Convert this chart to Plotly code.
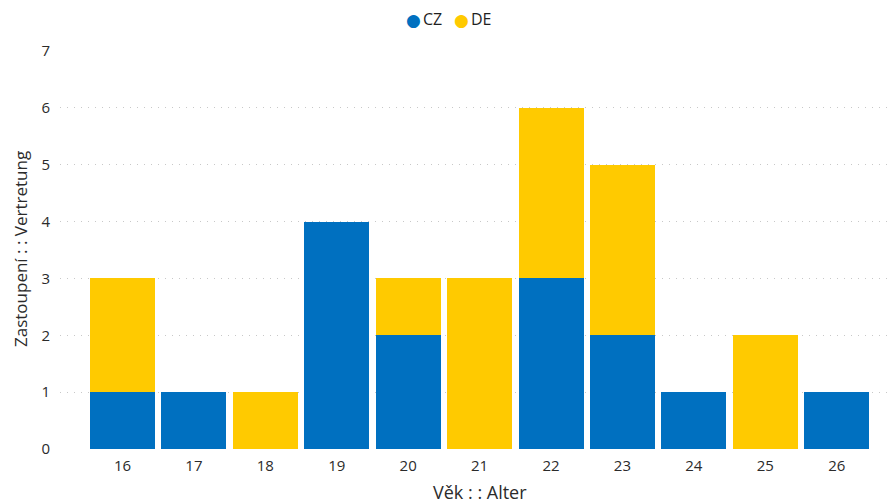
import plotly.graph_objects as go

ages = [16, 17, 18, 19, 20, 21, 22, 23, 24, 25, 26]
cz = [1, 1, 0, 4, 2, 0, 3, 2, 1, 0, 1]
de = [2, 0, 1, 0, 1, 3, 3, 3, 0, 2, 0]
series_names = ["CZ", "DE"]

CZ_COLOR = "#0070C0"
DE_COLOR = "#FFCA00"
FONT = "Open Sans, DejaVu Sans, sans-serif"
TXT = "#2b2b2b"

# page body has an 8px margin, so the figure is sized/placed to compensate
fig = go.Figure()
fig.add_trace(go.Bar(x=ages, y=cz, name=series_names[0], marker=dict(color=CZ_COLOR, line=dict(width=0)),
                     width=0.91, showlegend=False))
fig.add_trace(go.Bar(x=ages, y=de, name=series_names[1], marker=dict(color=DE_COLOR, line=dict(width=0)),
                     width=0.91, showlegend=False))

fig.update_layout(
    width=888, height=495,
    barmode="stack",
    bargap=0,
    showlegend=False,
    plot_bgcolor="white", paper_bgcolor="white",
    margin=dict(l=52, r=0, t=43, b=54, autoexpand=False),
    font=dict(family=FONT, color=TXT, size=13),
    xaxis=dict(range=[15.125, 26.83], tickvals=ages, ticktext=[str(a) for a in ages],
               showgrid=False, zeroline=False, showline=False, ticks="", automargin=False,
               ticklabelstandoff=6,
               tickfont=dict(size=15, color=TXT)),
    yaxis=dict(range=[0, 7], dtick=1, showgrid=True, gridcolor="#C8C8C8", griddash="1px,6px",
               gridwidth=1.2, zeroline=False, showline=False, ticks="", automargin=False,
               ticklabelstandoff=9,
               tickfont=dict(size=15, color=TXT)),
)

# axis titles
fig.add_annotation(text="Věk : : Alter", xref="paper", yref="paper", x=(480 - 60) / 836, y=-43 / 398,
                   xanchor="center", yanchor="middle", showarrow=False, borderpad=0,
                   font=dict(size=18, color=TXT))
fig.add_annotation(text="Zastoupení : : Vertretung", xref="paper", yref="paper", x=-40 / 836, y=(449 - 249) / 398,
                   xanchor="center", yanchor="middle", showarrow=False, textangle=-90, borderpad=0,
                   font=dict(size=17, color=TXT))

# legend (circle markers + labels)
for name, color, cx in [(series_names[0], CZ_COLOR, 413), (series_names[1], DE_COLOR, 461)]:
    fig.add_annotation(text="●", xref="paper", yref="paper", x=(cx - 60) / 836, y=(449 - 19) / 398,
                       xanchor="center", yanchor="middle", showarrow=False, borderpad=0,
                       font=dict(size=17, color=color))
    fig.add_annotation(text=name, xref="paper", yref="paper", x=(cx + 9 - 60) / 836, y=(449 - 19) / 398,
                       xanchor="left", yanchor="middle", showarrow=False, borderpad=0,
                       font=dict(size=16, color="#1f1f1f"))

fig.write_html("out.html")
